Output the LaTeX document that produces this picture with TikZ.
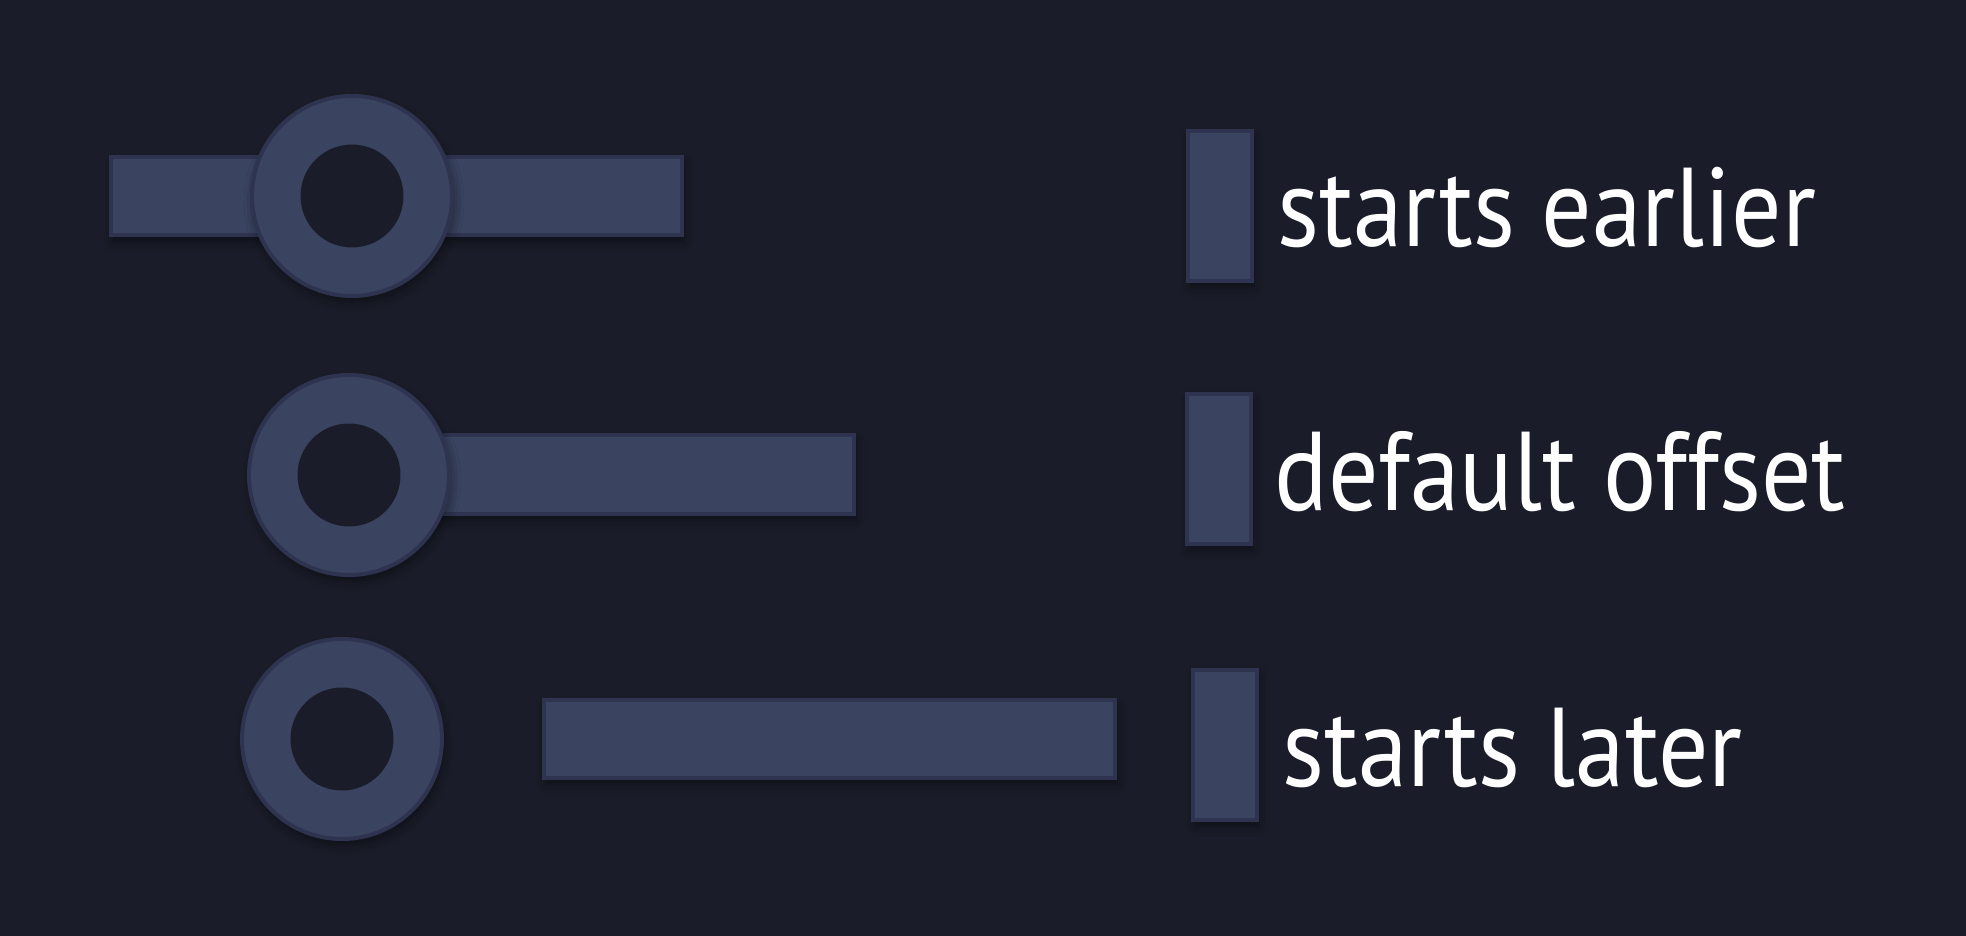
\documentclass[tikz,border=0pt]{standalone}
\usepackage{fontspec}
\setmainfont{PT Sans}[FakeStretch=0.89]
\usetikzlibrary{shadows.blur}
\definecolor{bgc}{HTML}{1A1D29}
\definecolor{fillc}{HTML}{3A4360}
\definecolor{edgec}{HTML}{2E3450}
\tikzset{
  blk/.style={fill=fillc, draw=edgec, line width=2pt,
    blur shadow={shadow xshift=1pt, shadow yshift=-3pt, shadow blur radius=5pt, shadow opacity=45}},
  hole/.style={fill=bgc},
  lbl/.style={text=white, anchor=base west, inner sep=0pt, font=\fontsize{56pt}{60pt}\selectfont}
}
\begin{document}
\begin{tikzpicture}[x=0.5pt,y=-0.5pt]
\useasboundingbox[fill=bgc] (0,0) rectangle (1966,936);
% row 1
\draw[blk] (111,157) rectangle (682,235);
\draw[blk] (352,196) circle[radius=50pt];
\fill[hole] (352,196) circle[radius=25.75pt];
\draw[blk] (1188,131) rectangle (1252,281);
\node[lbl] (t1) at (1277,247) {starts earlier};
% row 2
\draw[blk] (281,435) rectangle (854,514);
\draw[blk] (349,475) circle[radius=50pt];
\fill[hole] (349,475) circle[radius=25.75pt];
\draw[blk] (1187,394) rectangle (1251,544);
\node[lbl] (t2) at (1274,510) {default offset};
% row 3
\draw[blk] (342,739) circle[radius=50pt];
\fill[hole] (342,739) circle[radius=25.75pt];
\draw[blk] (544,700) rectangle (1115,778);
\draw[blk] (1193,670) rectangle (1257,820);
\node[lbl] (t3) at (1282,786) {starts later};
\end{tikzpicture}
\end{document}
